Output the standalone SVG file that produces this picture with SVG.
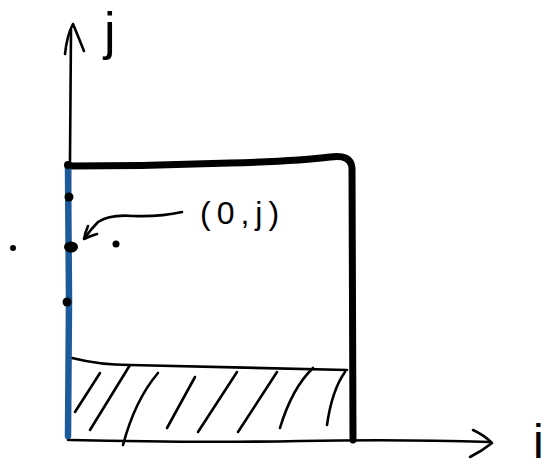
<svg xmlns="http://www.w3.org/2000/svg" width="548" height="469" viewBox="0 0 548 469">
<style>
.ink{fill:none;stroke:#000;stroke-linecap:round;stroke-linejoin:round}
.thin{stroke-width:2.6}
.thick{stroke-width:7}
.blue{fill:none;stroke:#1b5a9b;stroke-width:6.5;stroke-linecap:round}
.dot{fill:#000}
.lbl{font-family:"Liberation Sans","DejaVu Sans",sans-serif;fill:#000}
</style>
<rect width="548" height="469" fill="#fff"/>
<g id="connectors">
  <path id="j-axis" class="ink thin" d="M68,440 L69,300 L70,160 L71,30"/>
  <path class="ink thin" d="M65,54 Q67,35 73,24 Q78,36 84,51"/>
  <path id="i-axis" class="ink thin" d="M70,440 Q200,443 300,441 Q400,439 490,442"/>
  <path class="ink thin" d="M473,430 Q484,435 492,443 Q482,451 470,457"/>
  <path id="label-arrow" class="ink thin" d="M182,212 Q160,217 133,216 Q110,214 98,222 Q90,230 85,238"/>
  <path class="ink thin" d="M88,226 Q85,233 84,239 Q90,236 97,234"/>
</g>
<g id="domain">
  <path class="ink thick" d="M70,166 Q150,166 230,163 Q300,161 330,157 Q351,154 352,168 L353,440"/>
  <path class="ink thin" d="M72,358 Q100,365 130,365 Q250,368 347,370"/>
  <path class="ink thin" d="M75,412 L100,373"/>
  <path class="ink thin" d="M90,430 L130,365"/>
  <path class="ink thin" d="M123,445 Q135,400 158,373"/>
  <path class="ink thin" d="M167,428 L195,377"/>
  <path class="ink thin" d="M198,432 L237,372"/>
  <path class="ink thin" d="M238,432 L277,372"/>
  <path class="ink thin" d="M280,428 Q292,388 313,368"/>
  <path class="ink thin" d="M327,425 Q332,390 345,372"/>
</g>
<g id="boundary">
  <path class="blue" d="M68,166 L69,300 L68,436"/>
</g>
<g id="points">
  <circle class="dot" cx="68" cy="165" r="4"/>
  <circle class="dot" cx="69" cy="197" r="4.5"/>
  <ellipse class="dot" cx="71" cy="247" rx="7" ry="5.5"/>
  <circle class="dot" cx="67" cy="302" r="4.5"/>
  <circle class="dot" cx="13" cy="248" r="3"/>
  <circle class="dot" cx="116" cy="244" r="3.5"/>
</g>
<g id="labels">
  <text class="lbl" x="104" y="49" font-size="52">j</text>
  <text class="lbl" x="200" y="224" font-size="32" letter-spacing="6">(0,j)</text>
  <text class="lbl" x="533" y="458" font-size="48">i</text>
</g>
</svg>
